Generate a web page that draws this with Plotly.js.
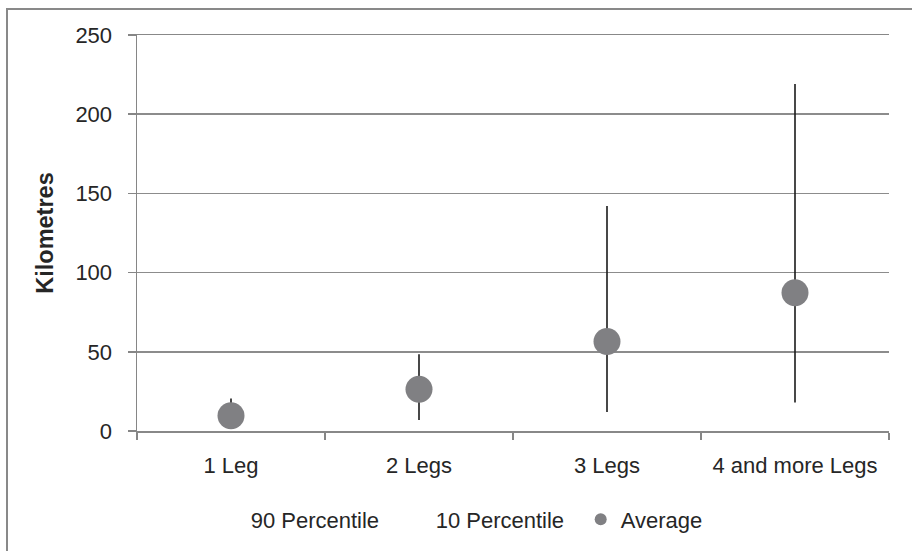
<!DOCTYPE html>
<html>
<head>
<meta charset="utf-8">
<script src="https://cdn.plot.ly/plotly-3.0.1.min.js"></script>
<style>
html,body{margin:0;padding:0;background:#fff;overflow:hidden;}
#chart{width:912px;height:551px;}
</style>
</head>
<body>
<div id="chart"></div>
<script>
var categories = ["1 Leg", "2 Legs", "3 Legs", "4 and more Legs"];
var p90 = [20.5, 48.5, 142, 219];
var p10 = [4, 7, 12, 18];
var average = [9.6, 26.4, 56.5, 87.3];
var yTicks = [0, 50, 100, 150, 200, 250];

var whiskerDown = p90.map(function(v, i){ return v - p10[i]; });
var zeros = p90.map(function(){ return 0; });

var FONT = "Liberation Sans, Arial, sans-serif";
var FS = 22;

var traces = [
  {
    name: "90 Percentile",
    type: "scatter",
    mode: "markers",
    x: categories,
    y: p90,
    marker: {size: 6, color: "rgba(0,0,0,0)", line: {width: 0}},
    error_y: {type: "data", symmetric: false, array: zeros, arrayminus: whiskerDown,
              color: "#1a1a1a", thickness: 1.6, width: 0},
    hoverinfo: "y"
  },
  {
    name: "10 Percentile",
    type: "scatter",
    mode: "markers",
    x: categories,
    y: p10,
    marker: {size: 6, color: "rgba(0,0,0,0)", line: {width: 0}},
    hoverinfo: "y"
  },
  {
    name: "Average",
    type: "scatter",
    mode: "markers",
    x: categories,
    y: average,
    marker: {size: 27, color: "#808083", line: {width: 0}},
    hoverinfo: "y"
  }
];

var layout = {
  width: 912,
  height: 551,
  paper_bgcolor: "#ffffff",
  plot_bgcolor: "#ffffff",
  margin: {l: 137, r: 23, t: 35, b: 119},
  font: {family: FONT, size: FS, color: "#262626"},
  showlegend: true,
  legend: {
    orientation: "h",
    x: 0.098, xanchor: "left",
    y: -0.22, yanchor: "middle",
    font: {family: FONT, size: FS, color: "#262626"},
    itemsizing: "constant",
    entrywidth: 140,
    entrywidthmode: "pixels",
    bgcolor: "rgba(0,0,0,0)"
  },
  xaxis: {
    type: "category",
    tickson: "boundaries",
    ticks: "outside",
    ticklen: 7,
    tickcolor: "#868686",
    tickwidth: 1.5,
    showline: true,
    mirror: true,
    linecolor: "#888888",
    linewidth: 1.5,
    showgrid: false,
    zeroline: false,
    tickfont: {family: FONT, size: FS, color: "#262626"},
    ticklabelstandoff: 14,
    range: [-0.5, 3.5]
  },
  yaxis: {
    range: [0, 250],
    tickvals: yTicks,
    ticktext: yTicks.map(String),
    ticks: "outside",
    ticklen: 8,
    tickcolor: "#868686",
    tickwidth: 1.5,
    showline: true,
    linecolor: "#868686",
    linewidth: 1.5,
    showgrid: true,
    gridcolor: "#8c8c8c",
    gridwidth: 1.5,
    zeroline: false,
    tickfont: {family: FONT, size: FS, color: "#262626"},
    ticklabelstandoff: 11,
    title: {text: "<b>Kilometres</b>", font: {family: FONT, size: 23.5, color: "#262626"}, standoff: 15}
  },
  shapes: [{
    type: "rect", xref: "paper", yref: "paper", layer: "below",
    x0: (7 - 137) / 752, x1: (930 - 137) / 752,
    y0: (432 - 570) / 397, y1: (432 - 9) / 397,
    line: {color: "#898989", width: 2}, fillcolor: "rgba(0,0,0,0)"
  }]
};

Plotly.newPlot("chart", traces, layout, {displayModeBar: false, staticPlot: true});
</script>
</body>
</html>
